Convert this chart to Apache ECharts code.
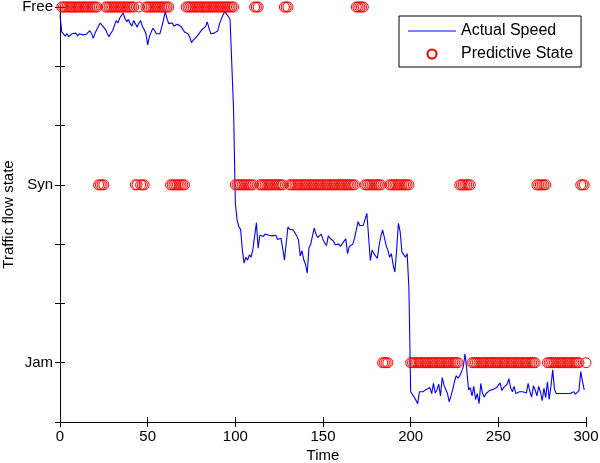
<!DOCTYPE html>
<html><head><meta charset="utf-8">
<script src="https://cdn.jsdelivr.net/npm/echarts@6/dist/echarts.min.js"></script>
<style>html,body{margin:0;padding:0;background:#fff}#c{width:600px;height:463px}</style>
</head><body><div id="c"></div><script>
// Actual speed (scaled onto the state axis), one value per time step t = 0..299
const speed = [
6.86,6.58,6.55,6.51,6.55,6.50,6.47,6.55,6.53,6.56,
6.51,6.55,6.57,6.53,6.55,6.54,6.57,6.60,6.55,6.47,
6.56,6.62,6.68,6.73,6.69,6.67,6.62,6.55,6.50,6.56,
6.60,6.58,6.77,6.73,6.81,6.84,6.90,6.81,6.75,6.79,
6.72,6.68,6.77,6.72,6.66,6.73,6.77,6.67,6.62,6.55,
6.36,6.50,6.58,6.64,6.60,6.55,6.58,6.55,6.66,6.78,
6.92,6.81,6.72,6.69,6.73,6.68,6.67,6.71,6.73,6.67,
6.66,6.58,6.60,6.55,6.49,6.40,6.44,6.42,6.50,6.53,
6.58,6.62,6.60,6.67,6.75,6.64,6.55,6.53,6.56,6.53,
6.60,6.72,6.73,6.87,6.92,6.88,6.84,6.79,6.76,5.26,
3.69,3.41,3.29,3.25,2.90,2.68,2.78,2.73,2.82,2.78,
2.91,3.13,3.36,2.93,3.15,3.18,3.13,3.17,3.14,3.15,
3.17,3.14,3.11,3.15,3.08,3.06,3.10,2.93,2.73,3.01,
3.29,3.25,3.24,3.24,3.21,3.14,3.07,2.80,2.89,2.74,
2.66,2.51,2.94,3.00,3.14,3.27,3.17,3.11,3.08,3.17,
3.08,3.02,2.98,3.14,3.10,3.08,3.05,2.99,2.96,3.00,
2.96,3.01,3.05,3.09,2.84,2.96,2.93,3.00,3.10,3.24,
3.38,3.31,3.29,3.32,3.35,3.52,3.13,2.72,2.90,2.84,
2.87,2.76,2.98,3.13,3.24,3.11,2.98,2.90,2.78,2.84,
2.65,2.53,2.90,3.35,3.21,2.87,2.90,2.78,2.84,2.25,
0.51,0.48,0.42,0.45,0.31,0.51,0.53,0.51,0.54,0.55,
0.54,0.58,0.48,0.65,0.49,0.54,0.64,0.44,0.75,0.62,
0.60,0.48,0.34,0.44,0.55,0.68,0.78,0.74,0.78,0.85,
0.93,1.15,0.88,0.54,0.58,0.44,0.60,0.38,0.48,0.31,
0.65,0.48,0.42,0.48,0.51,0.53,0.51,0.55,0.57,0.58,
0.61,0.66,0.53,0.58,0.55,0.64,0.73,0.58,0.51,0.60,
0.48,0.45,0.51,0.54,0.51,0.53,0.49,0.65,0.51,0.42,
0.61,0.54,0.44,0.60,0.51,0.36,0.57,0.41,0.68,0.38,
0.60,0.88,0.55,0.48,0.48,0.48,0.48,0.48,0.48,0.48,
0.49,0.48,0.49,0.51,0.47,0.45,0.53,0.85,0.68,0.54
];
const speedStart = 0;

// Predicted state per time step (t = 1..300), run-length encoded: [from, to, state]
const predictedRuns = [
[1,21,'Free'],[22,25,'Syn'],[26,42,'Free'],[43,44,'Syn'],[45,45,'Free'],[46,48,'Syn'],
[49,62,'Free'],[63,71,'Syn'],[72,99,'Free'],
[100,110,'Syn'],[111,113,'Free'],[114,127,'Syn'],[128,130,'Free'],[131,168,'Syn'],
[169,173,'Free'],[174,183,'Syn'],[184,187,'Jam'],[188,199,'Syn'],
[200,227,'Jam'],[228,234,'Syn'],[235,271,'Jam'],[272,277,'Syn'],[278,296,'Jam'],
[297,299,'Syn'],[300,300,'Jam']
];

const stateLevel = {Jam: 1, Syn: 4, Free: 7};
const yTickLabels = {1: 'Jam', 4: 'Syn', 7: 'Free'};
const xTickLabels = [0, 50, 100, 150, 200, 250, 300];

const lineData = speed.map((v, i) => [speedStart + i, v]);
const stateData = [];
predictedRuns.forEach(([a, b, s]) => { for (let t = a; t <= b; t++) stateData.push([t, stateLevel[s]]); });

const FONT = 'Liberation Sans, Arial, sans-serif';
const axisLine = {show: true, lineStyle: {color: '#000', width: 1}};
const axisTick = {show: true, inside: true, length: 5, lineStyle: {color: '#000', width: 1}};

const chart = echarts.init(document.getElementById('c'), null, {renderer: 'canvas'});
chart.setOption({
  animation: false,
  backgroundColor: '#fff',
  grid: {left: 60, right: 14, top: 7, bottom: 41, containLabel: false, outerBoundsMode: 'none'},
  legend: {
    orient: 'vertical', left: 399, top: 16,
    backgroundColor: '#fff', borderColor: '#000', borderWidth: 1, borderRadius: 0,
    padding: [6, 8, 4, 9], itemWidth: 48, itemHeight: 9, itemGap: 5,
    textStyle: {fontFamily: FONT, fontSize: 16, color: '#000', lineHeight: 18},
    data: [
      {name: 'Actual Speed', icon: 'path://M0,0H48V1.2H0Z'},
      {name: 'Predictive State'}
    ]
  },
  xAxis: [{
    type: 'value', min: 0, max: 300, interval: 50, position: 'bottom',
    name: 'Time', nameLocation: 'middle', nameGap: 26, nameMoveOverlap: false,
    nameTextStyle: {fontFamily: FONT, fontSize: 15, color: '#000'},
    axisLine, axisTick, splitLine: {show: false},
    axisLabel: {fontFamily: FONT, fontSize: 15, color: '#000', margin: 7,
      formatter: v => xTickLabels.includes(v) ? String(v) : ''}
  }, {
    type: 'value', min: 0, max: 300, interval: 50, position: 'top',
    axisLine, axisTick, splitLine: {show: false}, axisLabel: {show: false}
  }],
  yAxis: [{
    type: 'value', min: 0, max: 7, interval: 1, position: 'left',
    name: 'Traffic flow state', nameLocation: 'middle', nameGap: 44, nameRotate: 90,
    nameMoveOverlap: false,
    nameTextStyle: {fontFamily: FONT, fontSize: 15, color: '#000'},
    axisLine, axisTick, splitLine: {show: false},
    axisLabel: {fontFamily: FONT, fontSize: 15, color: '#000', margin: 7,
      formatter: v => yTickLabels[v] || ''}
  }, {
    type: 'value', min: 0, max: 7, interval: 1, position: 'right',
    axisLine, axisTick, splitLine: {show: false}, axisLabel: {show: false}
  }],
  series: [{
    name: 'Actual Speed', type: 'line', data: lineData,
    xAxisIndex: 0, yAxisIndex: 0,
    symbol: 'none', showSymbol: false,
    lineStyle: {color: '#0000ff', width: 1.1}, itemStyle: {color: '#0000ff'},
    z: 2
  }, {
    name: 'Predictive State', type: 'scatter', data: stateData,
    xAxisIndex: 0, yAxisIndex: 0, clip: false,
    symbol: 'circle', symbolSize: 10,
    itemStyle: {color: 'rgba(0,0,0,0)', borderColor: '#ff0000', borderWidth: 1, opacity: 1},
    z: 3
  }]
});
</script></body></html>
